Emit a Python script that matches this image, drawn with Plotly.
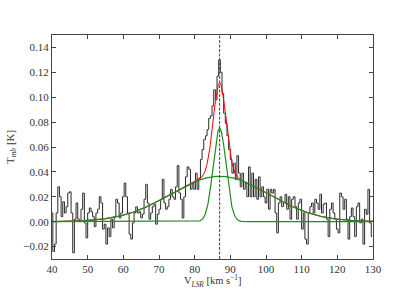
import numpy as np
import plotly.graph_objects as go

# Spectrum (T_mb in K), channels starting at 40 km/s
v_start = 40.0
v_step = 0.465
tmb = [
    0.007, -0.024, -0.018, 0.007, 0.028, 0.020, 0.004, 0.016, 0.007, 0.012, 0.023, 0.024, 0.007, -0.025, 0.002, 0.015,
    0.002, 0.000, 0.010, 0.023, -0.001, -0.013, 0.007, 0.011, 0.008, 0.004, -0.004, 0.007, 0.010, 0.020, 0.015, -0.006,
    -0.002, -0.018, -0.005, -0.012, 0.002, -0.005, 0.004, 0.018, 0.015, 0.003, 0.007, 0.020, 0.031, 0.020, 0.007, -0.010,
    -0.014, -0.001, 0.007, 0.012, 0.007, 0.008, 0.003, 0.006, 0.018, 0.030, 0.015, 0.002, 0.007, 0.012, 0.014, -0.002,
    0.006, 0.010, 0.018, 0.034, 0.015, 0.010, 0.012, 0.018, 0.026, 0.020, 0.018, 0.028, 0.045, 0.023, 0.018, 0.003,
    0.020, 0.036, 0.044, 0.042, 0.026, 0.031, 0.026, 0.039, 0.026, 0.035, 0.050, 0.058, 0.066, 0.069, 0.074, 0.083,
    0.085, 0.093, 0.106, 0.098, 0.117, 0.130, 0.120, 0.103, 0.087, 0.079, 0.069, 0.058, 0.050, 0.039, 0.047, 0.034,
    0.053, 0.039, 0.028, 0.039, 0.026, 0.031, 0.020, 0.044, 0.020, 0.039, 0.020, 0.034, 0.018, 0.036, 0.020, 0.028,
    0.020, 0.015, 0.026, 0.010, 0.026, 0.023, 0.026, 0.007, -0.009, 0.015, 0.020, 0.012, 0.015, 0.022, 0.010, 0.020,
    0.002, 0.018, 0.020, 0.012, 0.002, 0.015, 0.018, -0.006, 0.007, -0.014, -0.018, 0.007, 0.012, 0.015, 0.007, 0.018,
    0.015, 0.010, 0.022, 0.007, 0.014, 0.015, 0.002, -0.012, 0.010, 0.015, 0.007, 0.002, -0.006, -0.009, 0.023, 0.020,
    0.010, 0.018, 0.002, -0.014, 0.004, 0.011, 0.004, -0.012, 0.012, 0.015, -0.001, 0.002, -0.018, 0.010, 0.006, 0.026,
    -0.001, -0.012,
]
vel = [round(v_start + i * v_step, 3) for i in range(len(tmb))]

# Gaussian fit components: (amplitude K, centre km/s, sigma km/s)
narrow = (0.075, 87.0, 1.8)
broad = (0.0365, 87.0, 13.7)
v_center = 87.0

xticks = [40, 50, 60, 70, 80, 90, 100, 110, 120, 130]
yticks = [-0.02, 0.00, 0.02, 0.04, 0.06, 0.08, 0.10, 0.12, 0.14]

vm = np.linspace(40, 130, 901)
def gauss(p):
    a, c, s = p
    return a * np.exp(-0.5 * ((vm - c) / s) ** 2)
g_n = gauss(narrow)
g_b = gauss(broad)
g_sum = g_n + g_b

fig = go.Figure()
fig.add_trace(go.Scatter(x=vel, y=tmb, mode="lines", line=dict(color="#2a2a2a", width=1, shape="hvh")))
fig.add_trace(go.Scatter(x=vm, y=g_sum, mode="lines", line=dict(color="#ff0000", width=1)))
fig.add_trace(go.Scatter(x=vm, y=g_n, mode="lines", line=dict(color="#1f8c1f", width=1.2)))
fig.add_trace(go.Scatter(x=vm, y=g_b, mode="lines", line=dict(color="#1f8c1f", width=1.3)))

fig.add_shape(type="line", x0=v_center, x1=v_center, y0=0, y1=1, xref="x", yref="paper",
              line=dict(color="#444444", width=1, dash="3px,1.5px"))

font = dict(family="Liberation Serif, serif", size=11, color="#333333")
axis_common = dict(showline=True, linecolor="#444444", linewidth=1, mirror="ticks",
                   ticks="inside", ticklen=4, tickcolor="#444444", showgrid=False, zeroline=False,
                   automargin=False)

plot_h = 291 - 35 - 32
plot_w = 415 - 52 - 42
fig.add_annotation(text="V<sub><i>LSR</i></sub> [km s<sup>−1</sup>]", xref="paper", yref="paper",
                   x=0.5, y=-(281 - 259) / plot_h, xanchor="center", yanchor="middle",
                   showarrow=False, font=dict(family="Liberation Serif, serif", size=10.5, color="#333333"))
fig.add_annotation(text="T<sub><i>mb</i></sub> [K]", xref="paper", yref="paper",
                   x=-(52 - 11) / plot_w, y=0.5, xanchor="center", yanchor="middle",
                   textangle=-90, showarrow=False, font=font)

fig.update_layout(
    width=415, height=291,
    margin=dict(l=52, r=42, t=35, b=32),
    paper_bgcolor="white", plot_bgcolor="white",
    showlegend=False, font=font,
    xaxis=dict(range=[40, 130], tickvals=xticks, ticktext=[str(t) for t in xticks], **axis_common),
    yaxis=dict(range=[-0.03, 0.15], tickvals=yticks, tickformat=".2f", **axis_common),
)

fig.write_html("out.html", config={"displayModeBar": False},
               post_script="document.body.style.margin='0px';document.body.style.padding='0px';")
